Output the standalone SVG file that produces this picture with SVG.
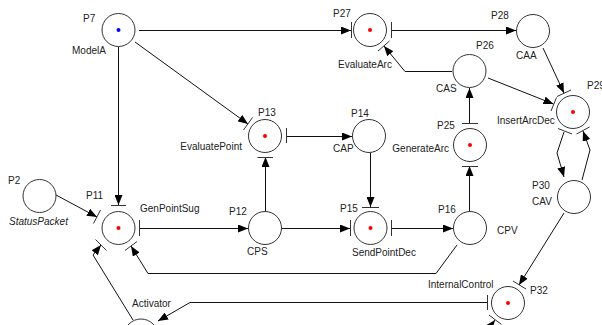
<svg xmlns="http://www.w3.org/2000/svg" width="602" height="325" viewBox="0 0 602 325">
<style>
.pl{fill:#fff;stroke:#333;stroke-width:1}
.bar{stroke:#333;stroke-width:1;fill:none}
.tk{fill:#f00}
.tb{fill:#00f}
.t{font-family:"Liberation Sans",Arial,sans-serif;font-size:10px;fill:#222}
.it{font-style:italic}
.c{fill:none;stroke:#111;stroke-width:1}
</style>
<defs>
<marker id="ah" viewBox="0 0 10 8" refX="10" refY="4" markerWidth="10" markerHeight="8" markerUnits="userSpaceOnUse" orient="auto">
<path d="M0,0 L10,4 L0,8 z" fill="#000"/>
</marker>
</defs>
<rect width="602" height="325" fill="#fff"/>

<g id="connectors">
<path class="c" d="M139,30.5 L351,30.5" marker-end="url(#ah)"/>
<path class="c" d="M392,30.5 L516,30.5" marker-end="url(#ah)"/>
<path class="c" d="M118.5,47 L118.5,205" marker-end="url(#ah)"/>
<path class="c" d="M135,42 L248,124" marker-end="url(#ah)"/>
<path class="c" d="M452,71.5 L405,71.5 L384,46" marker-end="url(#ah)"/>
<path class="c" d="M543,48 L564,93" marker-end="url(#ah)"/>
<path class="c" d="M488,78 L553.5,104" marker-end="url(#ah)"/>
<path class="c" d="M564,132 L557,153 L564,177" marker-end="url(#ah)"/>
<path class="c" d="M582,180 L590,150 L583,131" marker-end="url(#ah)"/>
<path class="c" d="M564,213 L519,285" marker-end="url(#ah)"/>
<path class="c" d="M56,195 L97,217" marker-end="url(#ah)"/>
<path class="c" d="M139,228.5 L248,228.5" marker-end="url(#ah)"/>
<path class="c" d="M265.5,211 L265.5,157" marker-end="url(#ah)"/>
<path class="c" d="M282,228.5 L350,228.5" marker-end="url(#ah)"/>
<path class="c" d="M286,136.5 L352,136.5" marker-end="url(#ah)"/>
<path class="c" d="M370.5,153 L370.5,207" marker-end="url(#ah)"/>
<path class="c" d="M391,228.5 L453,228.5" marker-end="url(#ah)"/>
<path class="c" d="M469.5,211 L469.5,166" marker-end="url(#ah)"/>
<path class="c" d="M469.5,123 L469.5,88" marker-end="url(#ah)"/>
<path class="c" d="M457,245 L436,273.5 L148,273.5 L131,246" marker-end="url(#ah)"/>
<path class="c" d="M133,320 L93,255 L101,245" marker-end="url(#ah)"/>
<path class="c" d="M487,302.5 L190,302.5 L158,321" marker-end="url(#ah)"/>
<path class="c" d="M482,337 L495,320" marker-end="url(#ah)"/>
</g>

<g id="P7">
<circle class="pl" cx="118.5" cy="30" r="16.5"/>
<circle class="tb" cx="118.5" cy="30" r="2"/>
<text class="t" x="83" y="22">P7</text>
<text class="t" x="72" y="54">ModelA</text>
</g>

<g id="P27">
<circle class="pl" cx="370" cy="30" r="16.5"/>
<circle class="tk" cx="370" cy="30" r="2"/>
<path class="bar" d="M351.5,22 V38 M391.5,22 V38 M378,51 L389.5,41"/>
<text class="t" x="333" y="17">P27</text>
<text class="t" x="338" y="68">EvaluateArc</text>
</g>

<g id="P28">
<circle class="pl" cx="533" cy="31" r="16.5"/>
<text class="t" x="491" y="19">P28</text>
<text class="t" x="516" y="59">CAA</text>
</g>

<g id="P26">
<circle class="pl" cx="469.5" cy="71" r="16.5"/>
<text class="t" x="476" y="49">P26</text>
<text class="t" x="436" y="92">CAS</text>
</g>

<g id="P29">
<circle class="pl" cx="573" cy="112" r="16.5"/>
<circle class="tk" cx="573" cy="112" r="2"/>
<path class="bar" d="M557,96.5 L571,90 M551,111 L556.5,97.5 M558,128.5 L572,134 M576.5,134 L589.5,127"/>
<text class="t" x="587" y="89">P29</text>
<text class="t" x="497" y="124">InsertArcDec</text>
</g>

<g id="P30">
<circle class="pl" cx="574" cy="197" r="16.5"/>
<text class="t" x="532" y="189">P30</text>
<text class="t" x="532" y="205">CAV</text>
</g>

<g id="P32">
<circle class="pl" cx="508" cy="303" r="16.5"/>
<circle class="tk" cx="508" cy="303" r="2"/>
<path class="bar" d="M513,281 L526,289 M487.5,295 V310 M489,315 L501.5,324.5"/>
<text class="t" x="530" y="294">P32</text>
<text class="t" x="428" y="288">InternalControl</text>
</g>

<g id="P2">
<circle class="pl" cx="39.5" cy="196" r="16.5"/>
<text class="t" x="8" y="184">P2</text>
<text class="t it" x="9" y="225">StatusPacket</text>
</g>

<g id="P11">
<circle class="pl" cx="118.5" cy="228" r="16.5"/>
<circle class="tk" cx="118.5" cy="228" r="2"/>
<path class="bar" d="M111,205.5 H126 M139.5,220 V236 M93.5,223.5 L100.5,210 M95.5,239.5 L106.5,250.5 M125,250.5 L137,241.5"/>
<text class="t" x="86" y="199">P11</text>
<text class="t" x="140" y="212">GenPointSug</text>
</g>

<g id="P12">
<circle class="pl" cx="265" cy="228" r="16.5"/>
<text class="t" x="229" y="215">P12</text>
<text class="t" x="247" y="255">CPS</text>
</g>

<g id="P13">
<circle class="pl" cx="265" cy="136" r="16.5"/>
<circle class="tk" cx="265" cy="136" r="2"/>
<path class="bar" d="M243.5,130 L252.5,117.5 M257.5,157.5 H273 M286.5,128 V143"/>
<text class="t" x="258" y="116">P13</text>
<text class="t" x="242" y="150" text-anchor="end">EvaluatePoint</text>
</g>

<g id="P14">
<circle class="pl" cx="369" cy="136" r="16.5"/>
<text class="t" x="351" y="117">P14</text>
<text class="t" x="333" y="152">CAP</text>
</g>

<g id="P15">
<circle class="pl" cx="370.5" cy="228" r="16.5"/>
<circle class="tk" cx="370.5" cy="228" r="2"/>
<path class="bar" d="M362,207.5 H379 M350.5,220 V236 M391.5,220 V236"/>
<text class="t" x="340" y="212">P15</text>
<text class="t" x="352" y="256">SendPointDec</text>
</g>

<g id="P16">
<circle class="pl" cx="470" cy="228" r="16.5"/>
<text class="t" x="438" y="213">P16</text>
<text class="t" x="497" y="234">CPV</text>
</g>

<g id="P25">
<circle class="pl" cx="470" cy="145" r="16.5"/>
<circle class="tk" cx="470" cy="145" r="2"/>
<path class="bar" d="M462,123.5 H478 M462,166.5 H478"/>
<text class="t" x="437" y="129">P25</text>
<text class="t" x="449" y="152" text-anchor="end">GenerateArc</text>
</g>

<g id="Activator">
<circle class="pl" cx="141" cy="336" r="17"/>
<text class="t" x="132" y="307">Activator</text>
</g>
</svg>
